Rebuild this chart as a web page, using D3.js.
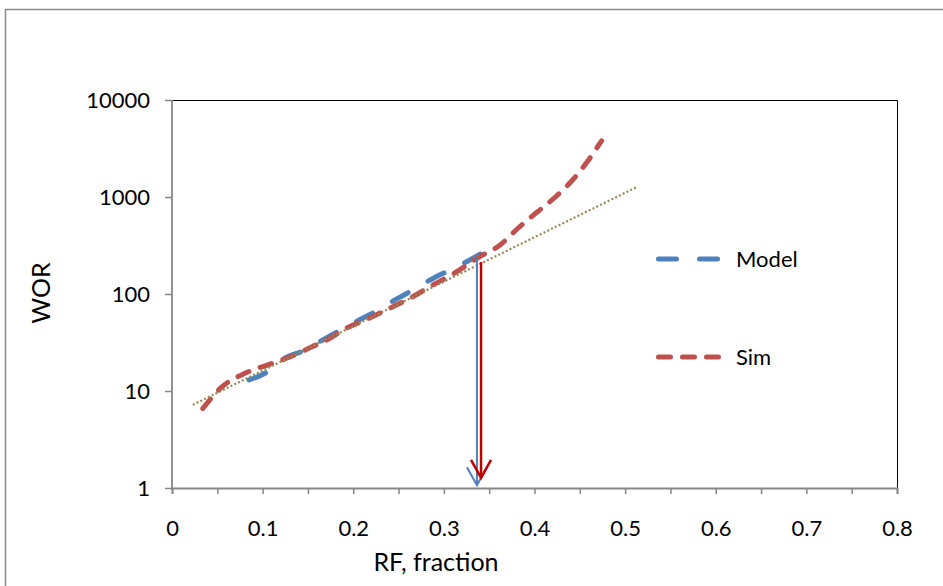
<!DOCTYPE html>
<html><head><meta charset="utf-8">
<script src="https://cdn.jsdelivr.net/npm/d3@7"></script>
<style>body{margin:0;background:#fff}svg{display:block}text{font-family:Lato,"Open Sans",sans-serif;fill:#000}</style>
</head><body><svg id="c" width="943" height="586"></svg>
<script>
// ---- data ----
const simRF  = [0.034,0.055,0.081,0.105,0.130,0.154,0.171,0.193,0.218,0.241,0.265,0.288,0.312,0.337,0.362,0.382,0.403,0.423,0.442,0.458,0.474];
const simWOR = [6.6,11,15.3,18.5,22.4,28.4,33.6,44.6,56.6,72,93,124,165,235,320,479,700,1000,1496,2293,3800];
const modelRF  = [0.085,0.105,0.125,0.145,0.165,0.185,0.205,0.226,0.246,0.266,0.287,0.307,0.325,0.342];
const modelWOR = [13,15.7,21.9,26,33,42,53,67,87,110,143,177,215,264];
const trendRF  = [0.023,0.513];
const trendWOR = [7.2,1268];
const arrowRF     = [0.3365,0.341];
const arrowTopWOR = [235,214];
const arrowEndWOR = [1.07,1.27];
const xTicks = [0,0.1,0.2,0.3,0.4,0.5,0.6,0.7,0.8];
const xMinorTicks = [0,0.05,0.1,0.15,0.2,0.25,0.3,0.35,0.4,0.45,0.5,0.55,0.6,0.65,0.7,0.75,0.8];
const yTicks = [1,10,100,1000,10000];
const seriesNames = ["Model","Sim"];

const svg = d3.select("#c");
const L=172,R=897,T=100,B=488;
const x = d3.scaleLinear().domain([0,0.8]).range([L,R]);
const y = d3.scaleLog().domain([1,10000]).range([B,T]);

// outer chart frame
svg.append("rect").attr("x",5.5).attr("y",9.5).attr("width",1200).attr("height",900)
  .attr("fill","none").attr("stroke","#888").attr("stroke-width",1.5);

// plot frame top/right
svg.append("path").attr("d",`M${L},${T+0.5}H${R+0.5}V${B}`).attr("fill","none").attr("stroke","#000").attr("stroke-width",1);

// axes
const gx = svg.append("g").attr("transform",`translate(0,${B})`)
  .call(d3.axisBottom(x).tickValues(xMinorTicks).tickSize(6).tickFormat(""));
gx.select(".domain").attr("stroke","#868686").attr("stroke-width",1.8);
gx.selectAll(".tick line").attr("stroke","#868686").attr("stroke-width",1.5);
const gxl = svg.append("g").attr("transform",`translate(0,${B})`)
  .call(d3.axisBottom(x).tickValues(xTicks).tickSize(0).tickPadding(32).tickFormat(d=>d===0?"0":d3.format(".1f")(d)));
gxl.select(".domain").remove();
gxl.selectAll("text").attr("font-size",22).attr("font-family","Lato");

const gy = svg.append("g").attr("transform",`translate(${L},0)`)
  .call(d3.axisLeft(y).tickValues(yTicks).tickSize(7).tickPadding(15).tickFormat(d3.format("d")));
gy.select(".domain").attr("stroke","#868686").attr("stroke-width",1.8).attr("d",`M0,${T}V${B+2}`);
gy.selectAll(".tick line").attr("stroke","#868686").attr("stroke-width",1.5);
gy.selectAll("text").attr("font-size",22).attr("font-family","Lato");

// axis titles
svg.append("text").attr("x",436).attr("y",571).attr("text-anchor","middle").attr("font-size",25).text("RF, fraction");
svg.append("text").attr("transform","translate(50,293) rotate(-90)").attr("text-anchor","middle").attr("font-size",25).text("WOR");

// series
const line = d3.line().x(d=>x(d[0])).y(d=>y(d[1])).curve(d3.curveMonotoneX);
const model = modelRF.map((r,i)=>[r,modelWOR[i]]);
const sim = simRF.map((r,i)=>[r,simWOR[i]]);
const trend = trendRF.map((r,i)=>[r,trendWOR[i]]);
const styles = {Model:{c:"#4F81BD",da:"18,23"},Sim:{c:"#C0504D",da:"12,12"}};

svg.append("path").datum(model).attr("d",line).attr("fill","none").attr("stroke",styles.Model.c)
  .attr("stroke-width",5).attr("stroke-dasharray",styles.Model.da).attr("stroke-linecap","round");
svg.append("path").datum(sim).attr("d",line).attr("fill","none").attr("stroke",styles.Sim.c)
  .attr("stroke-width",5).attr("stroke-dasharray",styles.Sim.da).attr("stroke-linecap","round");
svg.append("path").datum(trend).attr("d",d3.line().x(d=>x(d[0])).y(d=>y(d[1]))).attr("fill","none")
  .attr("stroke","#948A54").attr("stroke-width",2.2).attr("stroke-dasharray","2,2.2");

// arrows
const arrowColors = ["#4F81BD","#C00000"];
arrowRF.forEach((r,i)=>{
  const ax=x(r), y0=y(arrowTopWOR[i]), y1=y(arrowEndWOR[i]);
  const g=svg.append("g").attr("fill","none").attr("stroke",arrowColors[i]).attr("stroke-width",i?2.5:2);
  g.append("line").attr("x1",ax).attr("x2",ax).attr("y1",y0).attr("y2",y1);
  g.append("path").attr("d",`M${ax-10},${y1-18}L${ax},${y1}L${ax+10},${y1-18}`);
});

// legend
const leg = [{n:"Model",y:259},{n:"Sim",y:357}];
leg.forEach(l=>{
  const s=styles[l.n];
  svg.append("line").attr("x1",658.5).attr("x2",718.5).attr("y1",l.y).attr("y2",l.y)
    .attr("stroke",s.c).attr("stroke-width",5).attr("stroke-dasharray",s.da).attr("stroke-linecap","round");
  svg.append("text").attr("x",736).attr("y",l.y).attr("dy","0.35em").attr("font-size",22).text(l.n);
});
</script></body></html>
